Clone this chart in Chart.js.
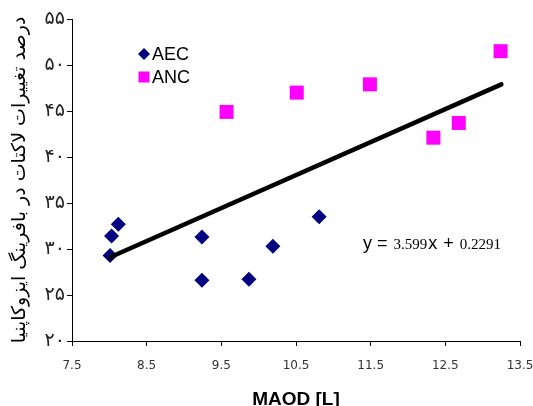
<!DOCTYPE html>
<html>
<head>
<meta charset="utf-8">
<script src="https://cdn.jsdelivr.net/npm/chart.js@4.4.1/dist/chart.umd.min.js"></script>
<style>
  html, body { margin: 0; padding: 0; background: #fff; }
  #wrap { width: 533px; height: 406px; }
</style>
</head>
<body>
<div id="wrap"><canvas id="chart" width="533" height="406"></canvas></div>
<script>
// values
const aecX = [8.01, 8.03, 8.12, 9.24, 9.24, 9.87, 10.19, 10.81];
const aecY = [29.3, 31.4, 32.7, 31.3, 26.6, 26.7, 30.3, 33.5];
const ancX = [9.57, 10.51, 11.49, 12.34, 12.68, 13.24];
const ancY = [44.9, 47.0, 47.9, 42.1, 43.7, 51.5];
const trendX = [8.01, 13.25];
const trendY = [29.1, 47.9];

const xTicks = [7.5, 8.5, 9.5, 10.5, 11.5, 12.5, 13.5];
const yTicks = [20, 25, 30, 35, 40, 45, 50, 55];

const seriesNames = ['AEC', 'ANC'];
const xTitle = 'MAOD [L]';
const yTitle = 'درصد تغییرات لاکتات در بافرینگ ایزوکاپنیا';
const eqSlope = '3.599';
const eqIntercept = '0.2291';

const persianDigits = ['۰', '۱', '۲', '۳', '۴', '۵', '۶', '۷', '۸', '۹'];
const toPersian = v => String(v).replace(/[0-9]/g, d => persianDigits[+d]);

const pairs = (xs, ys) => xs.map((x, i) => ({ x: x, y: ys[i] }));

// legend drawn inside the plot, top-left
const innerLegend = {
    id: 'innerLegend',
    afterDraw(chart) {
        const ctx = chart.ctx;
        ctx.save();
        ctx.font = '18px "Liberation Sans", Arial, sans-serif';
        ctx.textBaseline = 'middle';
        const items = [chart.data.datasets[1], chart.data.datasets[2]];
        items.forEach((ds, i) => {
            const x = 144, y = 54 + i * 23;
            ctx.fillStyle = ds.backgroundColor;
            ctx.beginPath();
            if (ds.pointStyle === 'rectRot') {
                ctx.moveTo(x - 6, y); ctx.lineTo(x, y - 6);
                ctx.lineTo(x + 6, y); ctx.lineTo(x, y + 6);
            } else {
                ctx.rect(x - 5.5, y - 5.5, 11, 11);
            }
            ctx.closePath();
            ctx.fill();
            ctx.fillStyle = '#000';
            ctx.fillText(ds.label, x + 8, y + 1);
        });
        ctx.restore();
    }
};

// regression equation with mixed fonts like the original
const equation = {
    id: 'equation',
    afterDraw(chart) {
        const ctx = chart.ctx;
        const sans = '18px "Liberation Sans", Arial, sans-serif';
        const serif = '15px "Liberation Serif", "Times New Roman", serif';
        const runs = [['y = ', sans], [eqSlope, serif], ['x', sans], [' + ', sans], [eqIntercept, serif]];
        ctx.save();
        ctx.fillStyle = '#000';
        ctx.textBaseline = 'alphabetic';
        let x = 363;
        runs.forEach(([t, f]) => {
            ctx.font = f;
            ctx.fillText(t, x, 249);
            x += ctx.measureText(t).width + 1;
        });
        ctx.restore();
    }
};

new Chart(document.getElementById('chart'), {
    data: {
        datasets: [
            {
                type: 'line',
                label: 'trend',
                data: pairs(trendX, trendY),
                borderColor: '#000',
                borderWidth: 4.5,
                borderCapStyle: 'round',
                pointRadius: 0,
                order: 0,
            },
            {
                type: 'scatter',
                label: seriesNames[0],
                data: pairs(aecX, aecY),
                pointStyle: 'rectRot',
                pointRadius: 7.5,
                backgroundColor: '#000080',
                borderColor: '#000080',
                borderWidth: 0,
                order: 1,
            },
            {
                type: 'scatter',
                label: seriesNames[1],
                data: pairs(ancX, ancY),
                pointStyle: 'rect',
                pointRadius: 9.9,
                backgroundColor: '#ff00ff',
                borderColor: '#ff00ff',
                borderWidth: 0,
                order: 2,
            },
        ],
    },
    options: {
        responsive: false,
        animation: false,
        layout: { padding: { top: 19, right: 13, left: 0, bottom: 0 } },
        plugins: {
            legend: { display: false },
            tooltip: { enabled: false },
        },
        scales: {
            x: {
                type: 'linear',
                min: 7.5,
                max: 13.5,
                afterBuildTicks: s => { s.ticks = xTicks.map(v => ({ value: v })); },
                afterFit: s => { s.height = 65; s.paddingLeft = 0; s.paddingRight = 0; },
                grid: { drawOnChartArea: false, drawTicks: true, tickLength: 5, color: '#000' },
                border: { display: true, color: '#000', width: 1 },
                ticks: {
                    padding: 13,
                    maxRotation: 0,
                    minRotation: 0,
                    color: '#333',
                    font: { family: '"DejaVu Sans", sans-serif', size: 12 },
                    callback: v => String(v),
                },
                title: {
                    display: true,
                    text: xTitle,
                    color: '#000',
                    font: { family: '"Liberation Sans", Arial, sans-serif', size: 19, weight: 'bold' },
                    padding: { top: 0, bottom: -5 },
                },
            },
            y: {
                type: 'linear',
                min: 20,
                max: 55,
                afterBuildTicks: s => { s.ticks = yTicks.map(v => ({ value: v })); },
                afterFit: s => { s.width = 72; },
                grid: { drawOnChartArea: false, drawTicks: true, tickLength: 5, color: '#000' },
                border: { display: true, color: '#000', width: 1 },
                ticks: {
                    padding: 2,
                    color: '#222',
                    font: { family: '"DejaVu Sans", sans-serif', size: 19 },
                    callback: v => toPersian(v),
                },
                title: {
                    display: true,
                    text: yTitle,
                    color: '#000',
                    font: { family: '"DejaVu Sans", sans-serif', size: 19 },
                    padding: { top: 9, bottom: 0 },
                },
            },
        },
    },
    plugins: [innerLegend, equation],
});
</script>
</body>
</html>
